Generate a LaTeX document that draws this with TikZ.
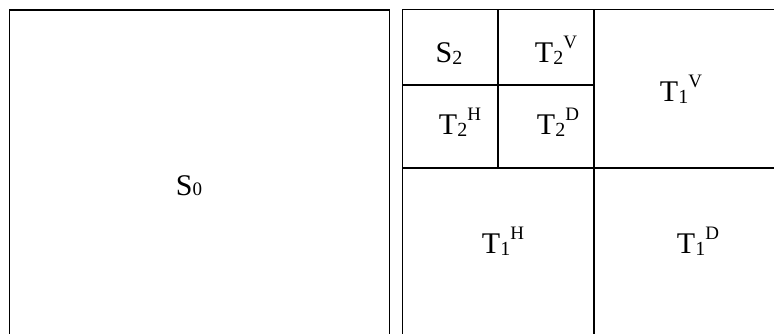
\documentclass[tikz,border=0pt]{standalone}
\usepackage{fontspec}
\setmainfont{Liberation Serif}
% label: base letter, lowered index, raised exponent
\newcommand{\ixlabel}[3]{#1\raisebox{-2pt}{\fontsize{20}{20}\selectfont #2}\raisebox{14pt}{\fontsize{19}{19}\selectfont #3}}
\begin{document}
\begin{tikzpicture}[x=1pt,y=-1pt,
  outerline/.style={line width=1.9pt},
  innerline/.style={line width=1.4pt},
  cell/.style={anchor=base,inner sep=0pt,font=\fontsize{30}{36}\selectfont}]
\useasboundingbox (0,0) rectangle (774,334);
% left square (open at the bottom)
\draw[outerline] (9.5,336) -- (9.5,10) -- (389.5,10) -- (389.5,336);
% right square: outer frame and its subdivisions
\draw[outerline] (402.5,336) -- (402.5,9.5) -- (776,9.5);
\draw[innerline] (402.5,168) -- (776,168);
\draw[innerline] (594,9.5) -- (594,336);
\draw[innerline] (402.5,85) -- (594,85);
\draw[innerline] (498,9.5) -- (498,168);
% labels
\node[cell] (s0)  at (189,195) {S\raisebox{-1pt}{\fontsize{19}{19}\selectfont 0}};
\node[cell] (s2)  at (449,63)  {S\raisebox{-2pt}{\fontsize{20}{20}\selectfont 2}};
\node[cell] (t2v) at (556,63)  {\ixlabel{T}{2}{V}};
\node[cell] (t2h) at (460,135) {\ixlabel{T}{2}{H}};
\node[cell] (t2d) at (558,135) {\ixlabel{T}{2}{D}};
\node[cell] (t1v) at (681,102) {\ixlabel{T}{1}{V}};
\node[cell] (t1h) at (503,253) {\ixlabel{T}{1}{H}};
\node[cell] (t1d) at (698,253) {\ixlabel{T}{1}{D}};
\end{tikzpicture}
\end{document}
